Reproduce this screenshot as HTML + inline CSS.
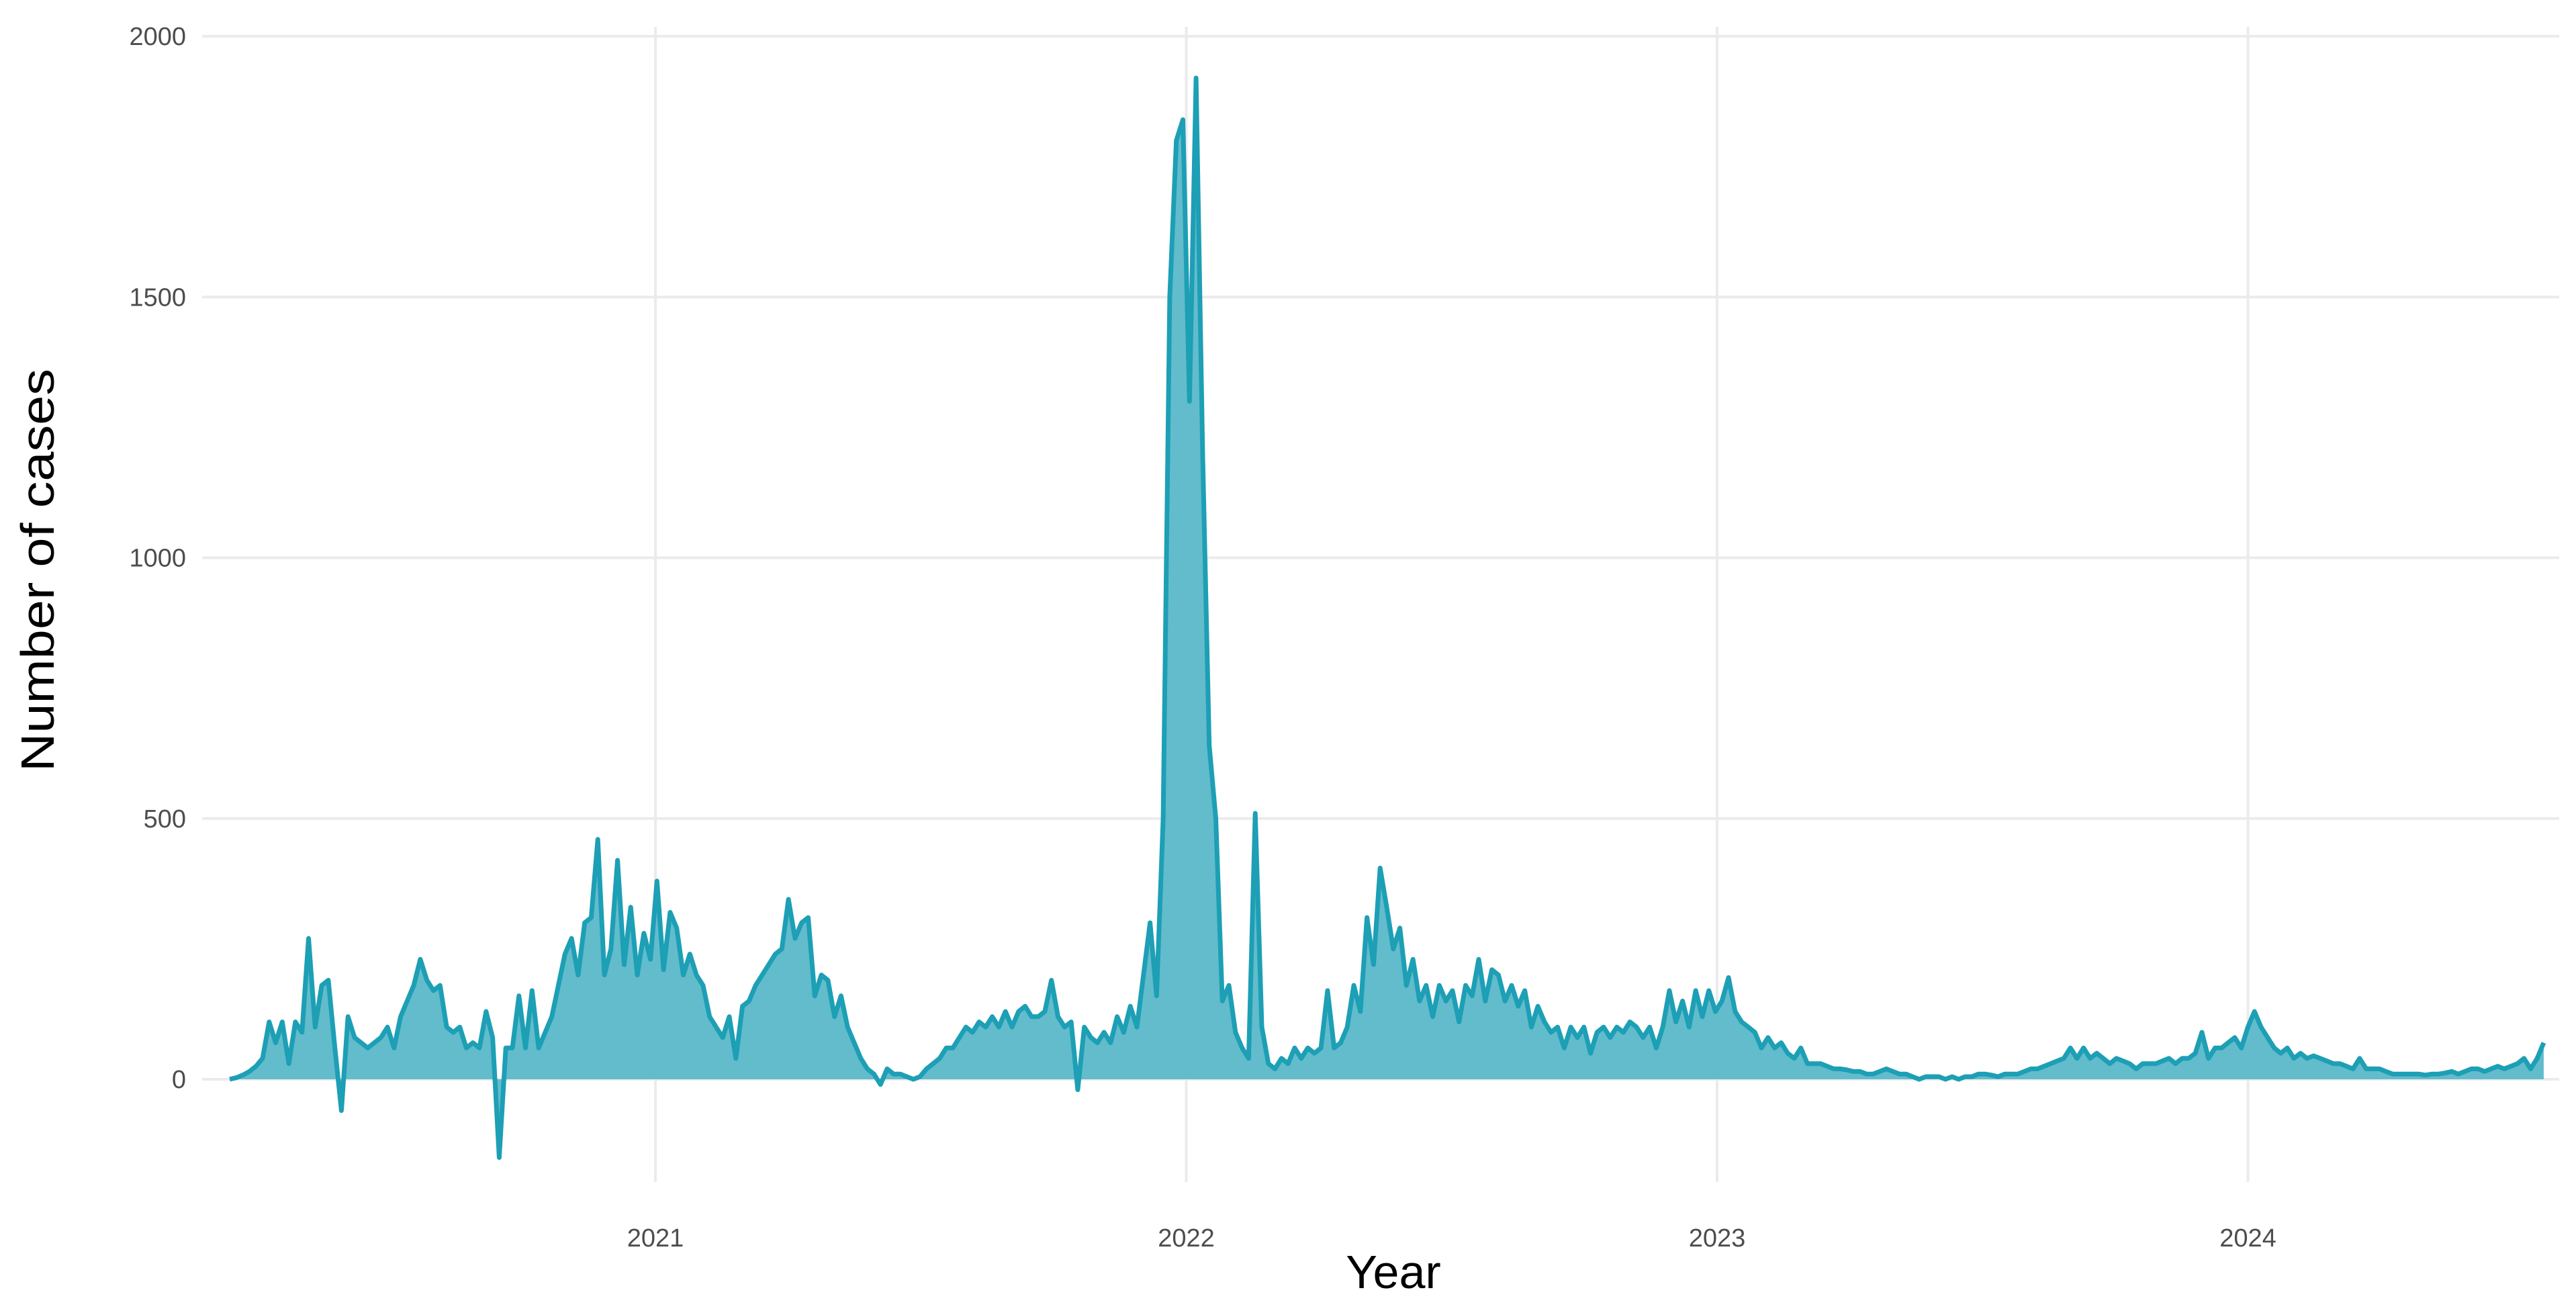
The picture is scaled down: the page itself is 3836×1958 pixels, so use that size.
<!DOCTYPE html>
<html><head><meta charset="utf-8"><style>
html,body{margin:0;padding:0;background:#fff;}
svg{display:block;}
text{font-family:"Liberation Sans",sans-serif;}
</style></head><body>
<svg id="chart" width="3836" height="1958" viewBox="0 0 3836 1958" xmlns="http://www.w3.org/2000/svg">
<g id="grid"></g>
<g id="series"></g>
<g id="axes"></g>
<text transform="translate(80,849) rotate(-90)" text-anchor="middle" font-size="70" fill="#000" textLength="600" lengthAdjust="spacingAndGlyphs">Number of cases</text>
<text x="2075" y="1918" text-anchor="middle" font-size="70" fill="#000">Year</text>
</svg>
<script>
const yTicks = [0, 500, 1000, 1500, 2000];
const xTicks = [2021, 2022, 2023, 2024];
const startYear = 2020.198;
const stepYears = 0.012384;
const cases = [0,3,8,15,25,40,110,70,110,30,110,90,270,100,180,190,60,-60,120,80,70,60,70,80,100,60,120,150,180,230,190,170,180,100,90,100,60,70,60,130,80,-150,60,60,160,60,170,60,90,120,180,240,270,200,300,310,460,200,250,420,220,330,200,280,230,380,210,320,290,200,240,200,180,120,100,80,120,40,140,150,180,200,220,240,250,345,270,300,310,160,200,190,120,160,100,70,40,20,10,-10,20,10,10,5,0,5,20,30,40,60,60,80,100,90,110,100,120,100,130,100,130,140,120,120,130,190,120,100,110,-20,100,80,70,90,70,120,90,140,100,200,300,160,500,1500,1800,1840,1300,1920,1200,640,500,150,180,90,60,40,510,100,30,20,40,30,60,40,60,50,60,170,60,70,100,180,130,310,220,405,330,250,290,180,230,150,180,120,180,150,170,110,180,160,230,150,210,200,150,180,140,170,100,140,110,90,100,60,100,80,100,50,90,100,80,100,90,110,100,80,100,60,100,170,110,150,100,170,120,170,130,150,195,130,110,100,90,60,80,60,70,50,40,60,30,30,30,25,20,20,18,15,15,10,10,15,20,15,10,10,5,0,5,5,5,0,5,0,5,5,10,10,8,5,10,10,10,15,20,20,25,30,35,40,60,40,60,40,50,40,30,40,35,30,20,30,30,30,35,40,30,40,40,50,90,40,60,60,70,80,60,100,130,100,80,60,50,60,40,50,40,45,40,35,30,30,25,20,40,20,20,20,15,10,10,10,10,10,8,10,10,12,15,10,15,20,20,15,20,25,20,25,30,40,20,40,70];

const NS = "http://www.w3.org/2000/svg";
const x0 = 976, pxPerYear = 790.5;
const y0 = 1607, pxPerUnit = (1607 - 54) / 2000;
function xScale(yr){ return x0 + (yr - 2021) * pxPerYear; }
function yScale(v){ return y0 - v * pxPerUnit; }
function mk(tag, attrs, parent){
  const e = document.createElementNS(NS, tag);
  for (const k in attrs) e.setAttribute(k, attrs[k]);
  parent.appendChild(e); return e;
}
const grid = document.getElementById('grid');
const axes = document.getElementById('axes');
const series = document.getElementById('series');

yTicks.forEach(t => {
  const l = mk('line', {x1:301, x2:3811, y1:yScale(t), y2:yScale(t), stroke:'#ebebeb', 'stroke-width':4}, grid);
  
  
  const tx = mk('text', {x:277, y:yScale(t)+13, 'text-anchor':'end', 'font-size':38, fill:'#4d4d4d'}, axes);
  tx.textContent = t;
  
  
});
xTicks.forEach(t => {
  const l = mk('line', {x1:xScale(t), x2:xScale(t), y1:40, y2:1760, stroke:'#ebebeb', 'stroke-width':4}, grid);
  
  
  const tx = mk('text', {x:xScale(t), y:1856, 'text-anchor':'middle', 'font-size':38, fill:'#4d4d4d'}, axes);
  tx.textContent = t;
  
  
});

let line = '';
cases.forEach((v, i) => {
  const X = xScale(startYear + i * stepYears), Y = yScale(v);
  line += (i ? 'L' : 'M') + X.toFixed(1) + ' ' + Y.toFixed(1);
});
const xFirst = xScale(startYear), xLast = xScale(startYear + (cases.length - 1) * stepYears);
const area = mk('path', {d: line + 'L' + xLast.toFixed(1) + ' ' + y0 + 'L' + xFirst.toFixed(1) + ' ' + y0 + 'Z', fill:'#62bccc', stroke:'none'}, series);


const path = mk('path', {d: line, fill:'none', stroke:'#1d9fb5', 'stroke-width':7, 'stroke-linejoin':'round'}, series);


</script>
</body></html>
